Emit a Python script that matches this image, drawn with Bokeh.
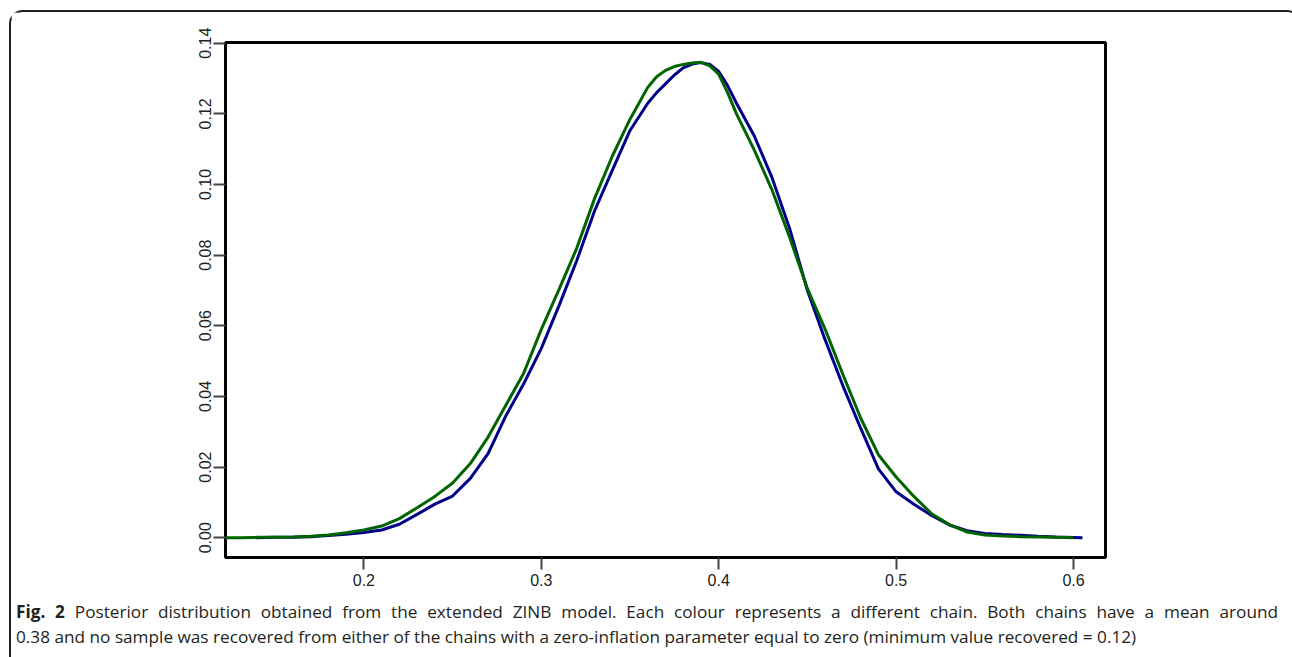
from bokeh.plotting import figure
from bokeh.models import Range1d, FixedTicker, PrintfTickFormatter, Div
from bokeh.layouts import column
from bokeh.embed import file_html
from bokeh.resources import INLINE

# ---- data ----
chain1_x = [0.139, 0.15, 0.16, 0.17, 0.18, 0.19, 0.20, 0.21, 0.22, 0.23, 0.24, 0.25,
            0.26, 0.27, 0.28, 0.29, 0.30, 0.31, 0.32, 0.33, 0.34, 0.35, 0.36, 0.365, 0.37, 0.375,
            0.38, 0.385, 0.39, 0.395, 0.40, 0.405, 0.41, 0.42, 0.43, 0.44, 0.45, 0.46, 0.47,
            0.48, 0.49, 0.50, 0.51, 0.52, 0.53, 0.54, 0.55, 0.56, 0.57, 0.58, 0.59, 0.605]
chain1_y = [0.0000, 0.0001, 0.0001, 0.0003, 0.0006, 0.0010, 0.0015, 0.0022, 0.0038, 0.0066, 0.0095, 0.0118,
            0.0168, 0.0238, 0.0345, 0.0435, 0.0536, 0.0657, 0.0785, 0.0925, 0.1040, 0.1153, 0.1230, 0.1260, 0.1285, 0.1310,
            0.1330, 0.1341, 0.1345, 0.1340, 0.1320, 0.1280, 0.1230, 0.1138, 0.1020, 0.0875, 0.0700, 0.0560, 0.0430,
            0.0310, 0.0195, 0.0130, 0.0095, 0.0063, 0.0036, 0.0020, 0.0012, 0.0009, 0.0007, 0.0004, 0.0002, 0.0000]

chain2_x = [0.115, 0.13, 0.14, 0.15, 0.16, 0.17, 0.18, 0.19, 0.20, 0.21, 0.22, 0.23, 0.24, 0.25,
            0.26, 0.27, 0.28, 0.29, 0.30, 0.31, 0.32, 0.33, 0.34, 0.35, 0.36, 0.365, 0.37, 0.375,
            0.38, 0.385, 0.39, 0.395, 0.40, 0.405, 0.41, 0.42, 0.43, 0.44, 0.45, 0.46, 0.47,
            0.48, 0.49, 0.50, 0.51, 0.52, 0.53, 0.54, 0.55, 0.56, 0.57, 0.58, 0.59, 0.60]
chain2_y = [0.0000, 0.0000, 0.0001, 0.0001, 0.0002, 0.0004, 0.0008, 0.0014, 0.0022, 0.0033, 0.0054, 0.0085, 0.0117, 0.0155,
            0.0210, 0.0285, 0.0375, 0.0465, 0.0590, 0.0703, 0.0820, 0.0960, 0.1080, 0.1185, 0.1275, 0.1305, 0.1323, 0.1334,
            0.1340, 0.1344, 0.1346, 0.1336, 0.1312, 0.1260, 0.1200, 0.1098, 0.0985, 0.0850, 0.0705, 0.0590, 0.0462,
            0.0339, 0.0235, 0.0172, 0.0117, 0.0068, 0.0037, 0.0016, 0.0008, 0.0005, 0.0003, 0.0002, 0.0001, 0.0000]

x_ticks = [0.2, 0.3, 0.4, 0.5, 0.6]
y_ticks = [0.00, 0.02, 0.04, 0.06, 0.08, 0.10, 0.12, 0.14]

caption_bold = "Fig. 2"
caption_line1 = ("Posterior distribution obtained from the extended ZINB model. Each colour represents "
                 "a different chain. Both chains have a mean around")
caption_line2 = ("0.38 and no sample was recovered from either of the chains with a zero-inflation "
                 "parameter equal to zero (minimum value recovered = 0.12)")

# ---- figure ----
p = figure(width=1278, height=585, output_backend="svg", toolbar_location=None,
           x_range=Range1d(0.122, 0.618), y_range=Range1d(-0.0056, 0.1402),
           min_border_left=214, min_border_right=184, min_border_top=30, min_border_bottom=40,
           background_fill_color="white", border_fill_color="white")

p.xgrid.visible = False
p.ygrid.visible = False
p.outline_line_color = "black"
p.outline_line_width = 3

p.xaxis.ticker = FixedTicker(ticks=x_ticks)
p.xaxis.formatter = PrintfTickFormatter(format="%.1f")
p.yaxis.ticker = FixedTicker(ticks=y_ticks)
p.yaxis.formatter = PrintfTickFormatter(format="%.2f")
p.yaxis.major_label_orientation = "vertical"

for ax in (p.xaxis[0], p.yaxis[0]):
    ax.axis_line_color = None
    ax.minor_tick_line_color = None
    ax.major_tick_in = 0
    ax.major_tick_out = 12
    ax.major_tick_line_color = "#444444"
    ax.major_tick_line_width = 2
    ax.major_label_text_font = "Liberation Sans"
    ax.major_label_text_font_size = "16px"
    ax.major_label_text_color = "#222222"
p.xaxis.major_label_standoff = 4
p.yaxis.major_label_standoff = 2

p.line(chain1_x, chain1_y, line_color="#00008B", line_width=3)
p.line(chain2_x, chain2_y, line_color="#006400", line_width=3)

caption_html = (
    '<div style="margin-top:-3px; margin-left:0px; width:1262px;">'
    '<div style="text-align:justify; text-align-last:justify; white-space:normal;">'
    f'<b>{caption_bold}</b> {caption_line1}</div>'
    f'<div style="white-space:nowrap;">{caption_line2}</div>'
    '</div>'
)
caption = Div(text=caption_html, width=1278, height=60,
              styles={"font-family": "'Open Sans', sans-serif", "font-size": "17.2px",
                      "line-height": "25px", "color": "#231F20",
                      "padding": "0px", "box-sizing": "border-box"})

layout = column(p, caption, spacing=0,
                styles={"margin-left": "9px", "margin-top": "10px",
                        "border": "2px solid #231F20", "border-bottom": "none",
                        "border-radius": "14px 14px 0 0", "background": "white",
                        "font-family": "'Liberation Sans', sans-serif"})

open("out.html", "w").write(file_html(layout, INLINE))
